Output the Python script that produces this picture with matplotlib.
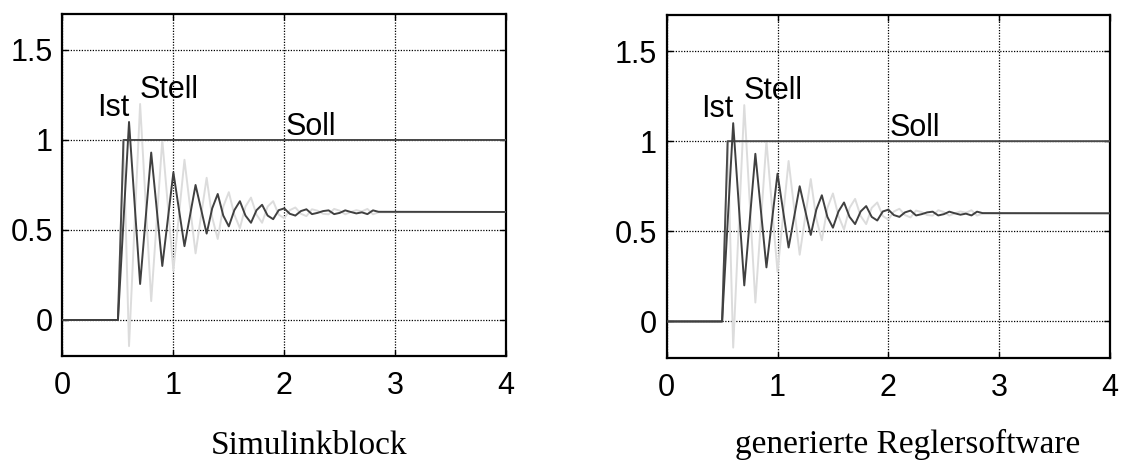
import matplotlib.pyplot as plt

plt.rcParams['font.family'] = ['Liberation Sans', 'DejaVu Sans']

# Soll (setpoint step)
t_soll = [0, 0.5, 0.55, 4.0]
soll = [0, 0, 1.0, 1.0]

# Ist (controlled variable)
t_ist = [0, 0.5, 0.6, 0.7, 0.8, 0.9, 1.0, 1.1, 1.2, 1.3, 1.35, 1.4, 1.45, 1.5,
         1.55, 1.6, 1.65, 1.7, 1.75, 1.8, 1.85, 1.9, 1.95, 2.0, 2.05, 2.1, 2.15,
         2.2, 2.25, 2.3, 2.35, 2.4, 2.45, 2.5, 2.55, 2.6, 2.65, 2.7, 2.75, 2.8,
         2.85, 4.0]
ist = [0, 0, 1.10, 0.20, 0.93, 0.30, 0.82, 0.41, 0.75, 0.48, 0.62, 0.70, 0.58, 0.52,
       0.61, 0.66, 0.58, 0.54, 0.61, 0.64, 0.58, 0.56, 0.61, 0.62, 0.59, 0.58, 0.605,
       0.615, 0.588, 0.595, 0.605, 0.609, 0.588, 0.595, 0.609, 0.60, 0.592, 0.598, 0.588, 0.609,
       0.601, 0.60]

# Stell (actuating variable)
t_stell = [0, 0.5, 0.55, 0.6, 0.7, 0.8, 0.9, 1.0, 1.1, 1.2, 1.3, 1.35, 1.4, 1.45,
           1.5, 1.55, 1.6, 1.65, 1.7, 1.75, 1.8, 1.85, 1.9, 1.95, 2.0, 2.05, 2.1,
           2.15, 2.2, 2.25, 2.3, 2.35, 2.4, 2.45, 2.5, 2.55, 2.6, 2.65, 2.7, 2.75,
           2.8, 2.85, 4.0]
stell = [0, 0, 1.0, -0.145, 1.2, 0.105, 1.0, 0.275, 0.89, 0.37, 0.79, 0.57, 0.45, 0.63,
         0.71, 0.585, 0.51, 0.63, 0.68, 0.585, 0.54, 0.63, 0.66, 0.585, 0.565, 0.61, 0.625,
         0.59, 0.577, 0.615, 0.607, 0.59, 0.587, 0.617, 0.607, 0.587, 0.60, 0.61, 0.603, 0.617,
         0.587, 0.598, 0.60]

xticks = [0, 1, 2, 3, 4]
yticks = [0, 0.5, 1, 1.5]
yticklabels = ['0', '0.5', '1', '1.5']
captions = ['Simulinkblock', 'generierte Reglersoftware']

fig = plt.figure(figsize=(11.22, 4.61), dpi=100)
ax1 = fig.add_axes([0.0557, 0.2278, 0.3953, 0.7419])
ax2 = fig.add_axes([0.5942, 0.2245, 0.3951, 0.7430])

for ax in (ax1, ax2):
    ax.plot(t_stell, stell, color='#dcdcdc', lw=1.4, zorder=2)
    ax.plot(t_soll, soll, color='#4a4a4a', lw=1.4, zorder=3)
    ax.plot(t_ist, ist, color='#404040', lw=1.4, zorder=3)
    ax.set_xlim(0, 4)
    ax.set_ylim(-0.2, 1.7)
    ax.set_xticks(xticks)
    ax.set_yticks(yticks)
    ax.set_yticklabels(yticklabels)
    ax.grid(True, color='black', linestyle=(0, (1, 1.2)), linewidth=0.9)
    ax.tick_params(direction='in', length=4, width=1, top=True, right=True,
                   labelsize=22)
    ax.tick_params(axis='x', pad=11)
    ax.tick_params(axis='y', pad=7)
    for s in ax.spines.values():
        s.set_linewidth(1.6)
    ax.text(0.31, 1.135, 'Ist', fontsize=22)
    ax.text(0.695, 1.235, 'Stell', fontsize=22)
    ax.text(2.01, 1.03, 'Soll', fontsize=22)

fig.text(0.2759, 0.0152, captions[0], ha='center', va='baseline',
         family='Liberation Serif', fontsize=24)
fig.text(0.809, 0.0174, captions[1], ha='center', va='baseline',
         family='Liberation Serif', fontsize=24)

plt.savefig('out.png')
